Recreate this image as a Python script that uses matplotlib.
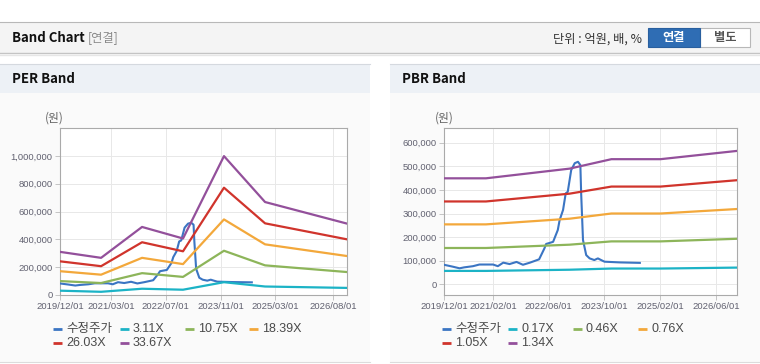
import numpy as np
import pandas as pd
import matplotlib
matplotlib.use("Agg")
import matplotlib.pyplot as plt
from matplotlib.patches import Rectangle
from matplotlib.lines import Line2D

W, H = 760, 364

# adjusted share price (수정주가), same series on both panels
price_dates = [
    '2019-12-01', '2020-02-15', '2020-04-15', '2020-05-25', '2020-08-10',
    '2020-10-05', '2021-02-01', '2021-03-15', '2021-05-01', '2021-06-25',
    '2021-08-25', '2021-10-20', '2021-12-20', '2022-03-10', '2022-04-25',
    '2022-05-10', '2022-07-10', '2022-08-20', '2022-09-05', '2022-10-05',
    '2022-10-28', '2022-11-15', '2022-12-15', '2023-01-15', '2023-02-12',
    '2023-03-05', '2023-03-12', '2023-03-28', '2023-04-25', '2023-05-25',
    '2023-07-05', '2023-08-05', '2023-09-02', '2023-10-02', '2024-02-12',
    '2024-08-05',
]
price_values = [
    83000, 75000, 68000, 72000, 77000,
    84000, 84000, 77000, 92000, 86000,
    95000, 83000, 92000, 106000, 152000,
    171000, 180000, 230000, 272000, 315000,
    385000, 392000, 484000, 513000, 519000,
    505000, 385000, 188000, 124000, 110000,
    103000, 110000, 103000, 96000, 93000,
    91000,
]

# PER band nodes
per_dates = ['2019-12-01', '2020-12-01', '2021-12-01', '2022-12-01',
             '2023-12-01', '2024-12-01', '2026-12-01']
per_311 = [31000, 23000, 45000, 38000, 92000, 61000, 51000]
per_1075 = [100000, 86000, 157000, 130000, 318000, 213000, 165000]
per_1839 = [171000, 146000, 267000, 222000, 543000, 364000, 280000]
per_2603 = [242000, 207000, 379000, 314000, 771000, 515000, 400000]
per_3367 = [310000, 267000, 489000, 406000, 998000, 668000, 513000]
per_labels = ['3.11X', '10.75X', '18.39X', '26.03X', '33.67X']

# PBR band nodes
pbr_dates = ['2019-12-01', '2020-12-01', '2022-12-01', '2023-12-01',
             '2025-02-01', '2026-12-01']
pbr_017 = [57000, 57000, 62000, 67000, 67000, 71000]
pbr_046 = [154000, 154000, 168000, 182000, 182000, 193000]
pbr_076 = [254000, 254000, 278000, 300000, 300000, 319000]
pbr_105 = [351000, 351000, 384000, 414000, 414000, 441000]
pbr_134 = [449000, 449000, 490000, 530000, 530000, 565000]
pbr_labels = ['0.17X', '0.46X', '0.76X', '1.05X', '1.34X']

per_ticks = ['2019/12/01', '2021/03/01', '2022/07/01', '2023/11/01', '2025/03/01', '2026/08/01']
pbr_ticks = ['2019/12/01', '2021/02/01', '2022/06/01', '2023/10/01', '2025/02/01', '2026/06/01']

COLORS = ['#3b75c3', '#1cb3c6', '#8db55a', '#f3a83b', '#d0342c', '#93509b']
PRICE_LABEL = '수정주가'

LATIN = ['Liberation Sans', 'Noto Sans CJK KR']
KOREAN = ['Noto Sans CJK KR', 'DejaVu Sans']


def fx(x):
    return x / W


def fy(y):
    return 1 - y / H


def add_rect(fig, x0, y0, x1, y1, color):
    fig.patches.append(Rectangle((fx(x0), fy(y1)), (x1 - x0) / W, (y1 - y0) / H,
                                 transform=fig.transFigure, facecolor=color,
                                 edgecolor='none', zorder=-2))


def add_hline(fig, x0, x1, y, color, lw=0.8):
    fig.add_artist(Line2D([fx(x0), fx(x1)], [fy(y), fy(y)], transform=fig.transFigure,
                          color=color, lw=lw, zorder=-1))


def draw_panel(fig, x0, x1, title):
    add_rect(fig, x0, 64, x1, 93, '#edf1f6')
    add_rect(fig, x0, 93, x1, 362, '#fafafa')
    add_hline(fig, x0, x1, 64, '#d5d9df')
    add_hline(fig, x0, x1, 362, '#dcdcdc')
    fig.text(fx(x0 + 12), fy(79), title, family=KOREAN, fontsize=9.5,
             fontweight='bold', color='#111111', va='center', ha='left')
    fig.text(fx(x0 + 45), fy(118), '(원)', family=KOREAN, fontsize=8.5,
             color='#666666', va='center', ha='left')


def draw_band_chart(fig, rect, ylim, ticks_y, tick_dates, tick_labels, band_dates, bands):
    ax = fig.add_axes([fx(rect[0]), fy(rect[3]), (rect[2] - rect[0]) / W, (rect[3] - rect[1]) / H])
    ax.set_facecolor('white')

    ax.plot(pd.to_datetime(price_dates), price_values, color=COLORS[0], lw=1.5, zorder=3)
    bd = pd.to_datetime(band_dates)
    for vals, col in zip(bands, COLORS[1:]):
        ax.plot(bd, vals, color=col, lw=1.6, zorder=4)

    ax.set_xlim(pd.Timestamp('2019-12-01'), pd.Timestamp('2026-12-01'))
    ax.set_ylim(*ylim)
    ax.set_yticks(ticks_y)
    ax.set_yticklabels([f'{v:,}' for v in ticks_y])
    ax.set_xticks(pd.to_datetime(tick_dates))
    ax.set_xticklabels(tick_labels)

    for s in ax.spines.values():
        s.set_color('#aaaaaa')
        s.set_linewidth(0.8)
    ax.grid(True, color='#e8e8e8', lw=0.7)
    ax.set_axisbelow(True)
    ax.tick_params(axis='both', colors='#c4c4c4', labelcolor='#616170',
                   labelsize=6.8, length=3.8, width=0.7, pad=1.5)
    for lab in ax.get_xticklabels() + ax.get_yticklabels():
        lab.set_family(LATIN)
    return ax


def draw_legend(fig, x_starts, labels):
    rows = [329, 343]
    for i, (lab, col) in enumerate(zip(labels, COLORS)):
        r, c = divmod(i, 4)
        x, y = x_starts[c], rows[r]
        fig.add_artist(Line2D([fx(x), fx(x + 9)], [fy(y), fy(y)], transform=fig.transFigure,
                              color=col, lw=2, solid_capstyle='butt'))
        fig.text(fx(x + 13), fy(y), lab, family=LATIN, fontsize=9,
                 color='#4a4a4a', va='center', ha='left')


fig = plt.figure(figsize=(W / 100, H / 100), dpi=100)
fig.patch.set_facecolor('white')

# top header bar
add_rect(fig, 0, 22, W, 53, '#f4f4f4')
add_hline(fig, 0, W, 22, '#b8b8b8')
add_hline(fig, 0, W, 53, '#c4c4c4', lw=1.0)
add_hline(fig, 0, W, 54.5, '#e6e6e6', lw=1.0)
fig.text(fx(12), fy(38), 'Band Chart', family=KOREAN, fontsize=9.5, fontweight='bold',
         color='#111111', va='center', ha='left')
fig.text(fx(88), fy(38), '[연결]', family=KOREAN, fontsize=8.8, color='#8a8a8a',
         va='center', ha='left')
fig.text(fx(642), fy(39), '단위 : 억원, 배, %', family=KOREAN, fontsize=8.8, color='#333333',
         va='center', ha='right')
fig.patches.append(Rectangle((fx(700), fy(47)), 50 / W, 19 / H, transform=fig.transFigure,
                             facecolor='#ffffff', edgecolor='#b8b8b8', lw=0.8))
fig.patches.append(Rectangle((fx(648), fy(47)), 52 / W, 19 / H, transform=fig.transFigure,
                             facecolor='#2f6db4', edgecolor='#295f9f', lw=0.8))
fig.text(fx(674), fy(38), '연결', family=KOREAN, fontsize=8.8, fontweight='bold',
         color='white', va='center', ha='center')
fig.text(fx(725), fy(38), '별도', family=KOREAN, fontsize=8.8, fontweight='bold',
         color='#555555', va='center', ha='center')

draw_panel(fig, 0, 370, 'PER Band')
draw_panel(fig, 390, 760, 'PBR Band')

draw_band_chart(fig, (60, 128, 347, 295), (0, 1200000),
                [0, 200000, 400000, 600000, 800000, 1000000],
                ['2019-12-01', '2021-03-01', '2022-07-01', '2023-11-01', '2025-03-01', '2026-08-01'],
                per_ticks, per_dates, [per_311, per_1075, per_1839, per_2603, per_3367])

draw_band_chart(fig, (444, 128, 737, 295), (-45000, 662000),
                [0, 100000, 200000, 300000, 400000, 500000, 600000],
                ['2019-12-01', '2021-02-01', '2022-06-01', '2023-10-01', '2025-02-01', '2026-06-01'],
                pbr_ticks, pbr_dates, [pbr_017, pbr_046, pbr_076, pbr_105, pbr_134])

draw_legend(fig, [53, 120, 185, 249], [PRICE_LABEL] + per_labels)
draw_legend(fig, [442, 508, 573, 638], [PRICE_LABEL] + pbr_labels)

fig.savefig('out.png', dpi=100)
